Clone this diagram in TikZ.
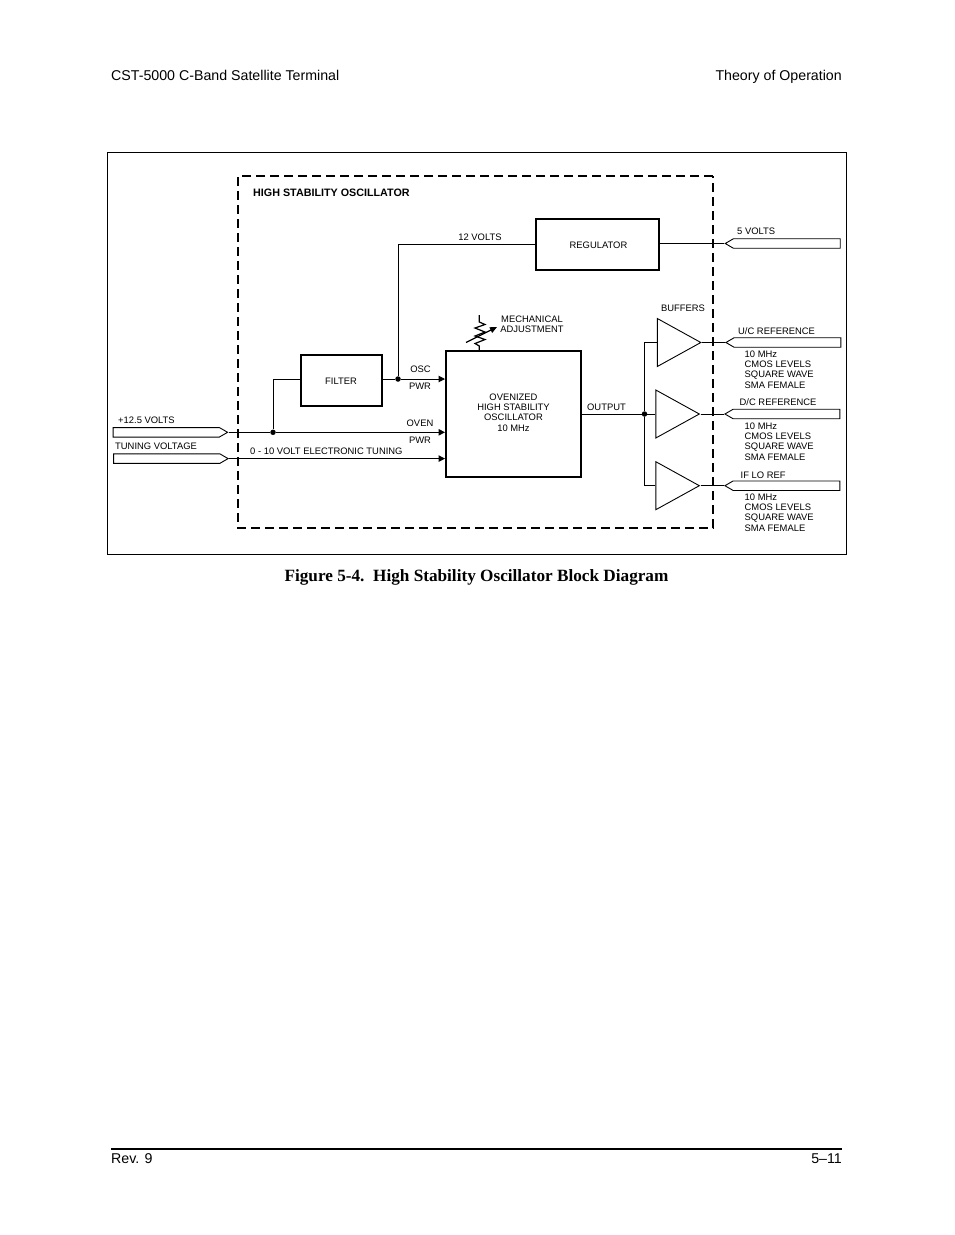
\documentclass[tikz,border=0pt]{standalone}
\usepackage{fontspec}
\setmainfont{Liberation Sans}
\newfontfamily\capfont{Liberation Serif}
\usetikzlibrary{arrows.meta,shapes.geometric,shapes.symbols}

\tikzset{
  lbl/.style={font=\fontsize{9.4}{10.4}\selectfont,inner sep=0pt,align=center},
  lblw/.style={lbl,anchor=west,align=left},
  pagetxt/.style={font=\fontsize{14.2}{16}\selectfont,inner sep=0pt},
  block/.style={draw,line width=2pt,inner sep=0pt},
  buffer/.style={draw,line width=0.9pt,isosceles triangle,isosceles triangle stretches,inner sep=0pt,anchor=apex,minimum height=43.5pt,minimum width=48pt},
  termin/.style={draw,line width=0.9pt,signal,signal to=east,signal from=nowhere,signal pointer angle=60,inner sep=0pt,anchor=east,minimum height=9.5pt,minimum width=114.5pt},
  termout/.style={draw,line width=0.9pt,signal,signal to=west,signal from=nowhere,signal pointer angle=60,inner sep=0pt,anchor=west,minimum height=9.5pt,minimum width=115pt},
  dot/.style={circle,fill,inner sep=0pt,minimum size=5.5pt},
  wire/.style={line width=1pt},
  feed/.style={wire,-{Triangle[length=6.5pt,width=6.5pt]}}
}

\begin{document}
\begin{tikzpicture}[x=1pt,y=-1pt]
  \useasboundingbox (0,0) rectangle (954,1235);

  % page furniture
  \node[pagetxt,anchor=base west] (hdl) at (111,80) {CST-5000 C-Band Satellite Terminal};
  \node[pagetxt,anchor=base east] (hdr) at (842,80) {Theory of Operation};
  \node[pagetxt,anchor=base west] (ftl) at (111,1163) {Rev. 9};
  \node[pagetxt,anchor=base east] (ftr) at (842,1163) {5--11};
  \draw[line width=1.6pt] (111,1149) -- (842,1149);
  \node[font=\capfont\bfseries\fontsize{17.2}{19}\selectfont,inner sep=0pt] (cap) at (476.5,577) {Figure 5-4.\ \ High Stability Oscillator Block Diagram};

  % frame and dashed box
  \draw[line width=1pt] (107.5,152.5) rectangle (846.5,554.5);
  \draw[line width=2pt,dash pattern=on 9pt off 5pt] (713,176) -- (238,176) -- (238,528) -- (713,528) -- cycle;
  \node[lblw,font=\bfseries\fontsize{10.75}{12}\selectfont] (title) at (253,192.5) {HIGH STABILITY OSCILLATOR};

  % blocks
  \node[block,minimum width=123pt,minimum height=51pt] (reg) at (597.5,244.5) {};
  \node[block,minimum width=81pt,minimum height=51pt] (filter) at (341,380.3) {};
  \node[block,minimum width=135pt,minimum height=126pt] (osc) at (513.5,414) {};
  \node[lbl] (lreg) at (598.5,245) {REGULATOR};
  \node[lbl] (lfilter) at (341,381) {FILTER};
  \node[lbl] (losctxt) at (513.5,412.5) {OVENIZED\\HIGH STABILITY\\OSCILLATOR\\10 MHz};

  % buffers
  \node[buffer] (bufa) at (702,342.5) {};
  \node[buffer] (bufb) at (700.5,414) {};
  \node[buffer] (bufc) at (700.5,485.7) {};

  % terminals
  \node[termin] (vin) at (228.5,432.3) {};
  \node[termin] (tune) at (229,458.6) {};
  \node[termout] (vout) at (724.3,243.5) {};
  \node[termout] (uc) at (725,342.5) {};
  \node[termout] (dc) at (724,414) {};
  \node[termout] (iflo) at (724,485.7) {};

  % junctions
  \node[dot] (joven) at (273,432.3) {};
  \node[dot] (josc) at (398,379) {};
  \node[dot] (jout) at (644.5,414) {};

  % wiring
  \draw[wire] (vin.east) -- (joven);
  \draw[feed] (joven) -- (joven -| osc.west);
  \draw[feed] (tune.east) -- (tune.east -| osc.west);
  \draw[wire] (joven) |- (filter.west |- josc);
  \draw[wire] (filter.east |- josc) -- (josc);
  \draw[feed] (josc) -- (josc -| osc.west);
  \draw[wire] (josc) |- (reg.west);
  \draw[wire] (reg.east |- vout.west) -- (vout.west);
  \draw[wire] (osc.east) -- (bufb.lower side);
  \draw[wire] (bufa.lower side) -| (jout);
  \draw[wire] (bufc.lower side) -| (jout);
  \draw[wire] (bufa.apex) -- (uc.west);
  \draw[wire] (bufb.apex) -- (dc.west);
  \draw[wire] (bufc.apex) -- (iflo.west);

  % mechanical adjustment
  \coordinate (adjtop) at (479.3,315);
  \draw[line width=1.2pt] (adjtop) -- (479.3,322) -- (485,324.5) -- (475,328) -- (485,332) -- (475,336) -- (485,339.5) -- (475,343.5) -- (479.3,346) -- (adjtop |- osc.north);
  \draw[line width=1.2pt,-{Triangle[length=7pt,width=6pt]}] (466,342.5) -- (497,327);

  % labels
  \node[lbl] (l12) at (480,237) {12 VOLTS};
  \node[lblw] (l5) at (737,231.5) {5 VOLTS};
  \node[lbl] (lbuf) at (683,308) {BUFFERS};
  \node[lbl] (ladj) at (532,324.5) {MECHANICAL\\ADJUSTMENT};
  \node[lbl] (losc) at (420.5,369) {OSC};
  \node[lbl] (lpwra) at (420,386) {PWR};
  \node[lbl] (loven) at (420,423) {OVEN};
  \node[lbl] (lpwrb) at (420,440) {PWR};
  \node[lbl] (lout) at (606.5,407) {OUTPUT};
  \node[lblw] (lvin) at (118,420) {+12.5 VOLTS};
  \node[lblw] (ltune) at (115,446) {TUNING VOLTAGE};
  \node[lblw] (letune) at (250,451) {0 - 10 VOLT ELECTRONIC TUNING};
  \node[lblw] (luc) at (738,331) {U/C REFERENCE};
  \node[lblw] (ldc) at (739.5,402) {D/C REFERENCE};
  \node[lblw] (lif) at (740.5,475) {IF LO REF};
  \foreach \n/\y in {a/369.5,b/441.5,c/512.5}
    \node[lblw] (spec\n) at (744.5,\y) {10 MHz\\CMOS LEVELS\\SQUARE WAVE\\SMA FEMALE};
\end{tikzpicture}
\end{document}
